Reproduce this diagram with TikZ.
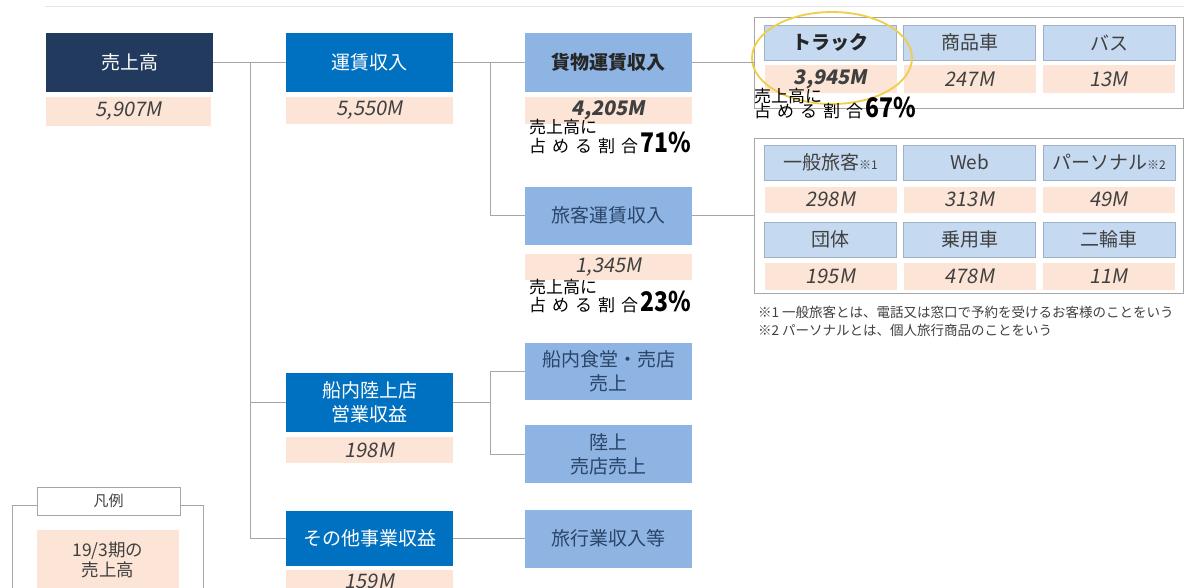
\documentclass[tikz,border=0pt]{standalone}
\usepackage{fontspec}
\setmainfont{Noto Sans CJK JP}
\newfontfamily\numf{Noto Sans CJK JP}[FakeSlant=0.18]
\definecolor{navy}{HTML}{213A5E}
\definecolor{mblue}{HTML}{0070C0}
\definecolor{lblue}{HTML}{8DB4E2}
\definecolor{cblue}{HTML}{C5D9F1}
\definecolor{cborder}{HTML}{9FB1C6}
\definecolor{peach}{HTML}{FCE4D6}
\definecolor{lgray}{HTML}{A6A6A6}
\definecolor{numgray}{HTML}{404040}
\definecolor{txtblue}{HTML}{2B4468}
\definecolor{yel}{HTML}{F0CE4A}
\tikzset{
  box/.style={minimum width=167pt, minimum height=59pt, inner sep=0pt, align=center,
    font=\fontsize{19}{24}\selectfont},
  dbox/.style={box, fill=navy, text=white},
  bbox/.style={box, fill=mblue, text=white},
  lbox/.style={box, fill=lblue, text=txtblue},
  val/.style={fill=peach, minimum width=167pt, minimum height=27pt, inner sep=0pt,
    text=numgray, font=\numf\fontsize{20}{20}\selectfont},
  cell/.style={fill=cblue, draw=cborder, line width=0.8pt, minimum width=132pt, minimum height=35pt,
    inner sep=0pt, text=numgray, font=\fontsize{19}{19}\selectfont},
  cval/.style={fill=peach, minimum width=132pt, minimum height=27pt, inner sep=0pt,
    text=numgray, font=\numf\fontsize{20}{20}\selectfont},
  panel/.style={draw=lgray, line width=0.9pt, minimum width=429pt, inner sep=0pt},
  conn/.style={draw=lgray, line width=0.9pt},
  ovl/.style={inner sep=0pt, text=black, font=\fontsize{17}{17}\selectfont},
  note/.style={inner sep=0pt, anchor=west, text=numgray, font=\fontsize{13.5}{13.5}\selectfont},
}
\newcommand\pct[1]{{\bfseries\fontsize{27}{27}\selectfont\scalebox{0.85}[1]{#1}}}
\newcommand\shimeru{占\kern6pt め\kern6pt る\kern6pt 割\kern6pt 合\kern2pt}
\begin{document}
\begin{tikzpicture}[x=1pt, y=-1pt]
\useasboundingbox (0,0) rectangle (1184,587);
\fill[white] (0,0) rectangle (1184,587);
\draw[color=black!10, line width=0.8pt] (45,6) -- (1184,6);

% main column nodes
\node[dbox] (uri) at (129.5,62.5) {売上高};
\node[val, minimum width=165pt, minimum height=29pt] (uriv) at (128.5,111.5) {5,907M};
\node[bbox] (unchin) at (369.5,62.5) {運賃収入};
\node[val] (unchinv) at (369.5,110.5) {5,550M};
\node[bbox] (senai) at (369.5,402.5) {船内陸上店\\営業収益};
\node[val, minimum height=26pt] (senaiv) at (369.5,450) {198M};
\node[bbox, minimum height=55pt] (sonota) at (369.5,538.5) {その他事業収益};
\node[val, minimum height=22pt] (sonotav) at (369.5,581) {159M};

\node[lbox, text=black!85, font=\bfseries\fontsize{19}{24}\selectfont] (kamotsu) at (608.5,62.5) {貨物運賃収入};
\node[val, font=\numf\bfseries\fontsize{20}{20}\selectfont] (kamotsuv) at (608.5,110.5) {4,205M};
\node[lbox, minimum height=58pt] (ryokaku) at (608.5,215.5) {旅客運賃収入};
\node[val, minimum height=26pt] (ryokakuv) at (608.5,267) {1,345M};
\node[lbox, minimum height=57pt] (shokudo) at (608.5,371.5) {船内食堂・売店\\売上};
\node[lbox, minimum height=58pt] (rikujo) at (608.5,454) {陸上\\売店売上};
\node[lbox, minimum height=58pt] (ryokogyo) at (608.5,538.5) {旅行業収入等};

% panels
\node[panel, minimum height=91pt] (panel1) at (968.5,62.5) {};
\node[panel, minimum height=155pt] (panel2) at (968.5,215.5) {};

% panel 1 cells
\node[cell, font=\bfseries\fontsize{19}{19}\selectfont, text=black!85] (truck) at (830.5,42.5) {トラック};
\node[cell] (shohin) at (969.5,42.5) {商品車};
\node[cell] (bus) at (1109,42.5) {バス};
\node[cval, minimum height=28pt, font=\numf\bfseries\fontsize{20}{20}\selectfont] (truckv) at (830.5,79) {3,945M};
\node[cval, minimum height=28pt] (shohinv) at (969.5,79) {247M};
\node[cval, minimum height=28pt] (busv) at (1109,79) {13M};
\draw[yel, line width=1.8pt] (832,58) ellipse [x radius=80, y radius=46];

% panel 2 cells
\node[cell] (ippan) at (830.5,162.5) {一般旅客{\fontsize{12}{12}\selectfont ※1}};
\node[cell] (web) at (969.5,162.5) {Web};
\node[cell] (personal) at (1109,162.5) {パーソナル{\fontsize{12}{12}\selectfont ※2}};
\node[cval, minimum height=26pt] (ippanv) at (830.5,199.5) {298M};
\node[cval, minimum height=26pt] (webv) at (969.5,199.5) {313M};
\node[cval, minimum height=26pt] (personalv) at (1109,199.5) {49M};
\node[cell] (dantai) at (830.5,239.5) {団体};
\node[cell] (joyo) at (969.5,239.5) {乗用車};
\node[cell] (nirin) at (1109,239.5) {二輪車};
\node[cval] (dantaiv) at (830.5,276.5) {195M};
\node[cval] (joyov) at (969.5,276.5) {478M};
\node[cval] (nirinv) at (1109,276.5) {11M};

\node[note] (note1) at (758,312) {※1 一般旅客とは、電話又は窓口で予約を受けるお客様のことをいう};
\node[note] (note2) at (758,330) {※2 パーソナルとは、個人旅行商品のことをいう};

% share overlays
\node[ovl, anchor=west] (s71a) at (529,127) {売上高に};
\node[ovl, anchor=base west] (s71b) at (529,152) {\shimeru\pct{71\%}};
\node[ovl, anchor=west] (s23a) at (529,287) {売上高に};
\node[ovl, anchor=base west] (s23b) at (529,311) {\shimeru\pct{23\%}};
\node[ovl, anchor=west] (s67a) at (754,96) {売上高に};
\node[ovl, anchor=base west] (s67b) at (754,117) {\shimeru\pct{67\%}};

% connectors
\coordinate (j1) at (250,62.5);
\coordinate (j2) at (490,62.5);
\coordinate (j3) at (490,402.5);
\draw[conn] (uri.east) -- (unchin.west);
\draw[conn] (j1) |- (senai.west);
\draw[conn] (j1) |- (sonota.west);
\draw[conn] (unchin.east) -- (kamotsu.west);
\draw[conn] (j2) |- (ryokaku.west);
\draw[conn] (kamotsu.east) -- (panel1.west);
\draw[conn] (ryokaku.east) -- (panel2.west);
\draw[conn] (senai.east) -- (j3);
\draw[conn] (j3) |- (shokudo.west);
\draw[conn] (j3) |- (rikujo.west);
\draw[conn] (sonota.east) -- (ryokogyo.west);

% legend
\draw[lgray, line width=0.9pt] (37,505) -- (12,505) -- (12,592);
\draw[lgray, line width=0.9pt] (180,505) -- (203,505) -- (203,592);
\node[draw=lgray, fill=white, line width=0.9pt, minimum width=143pt, minimum height=28pt, inner sep=0pt,
  text=numgray, font=\fontsize{15}{15}\selectfont] (legtab) at (108.5,501) {凡例};
\node[fill=peach, minimum width=142pt, minimum height=60pt, inner sep=0pt, align=center,
  text=numgray, font=\fontsize{17.5}{20}\selectfont] (legval) at (108,560) {19/3期の\\売上高};
\end{tikzpicture}
\end{document}
